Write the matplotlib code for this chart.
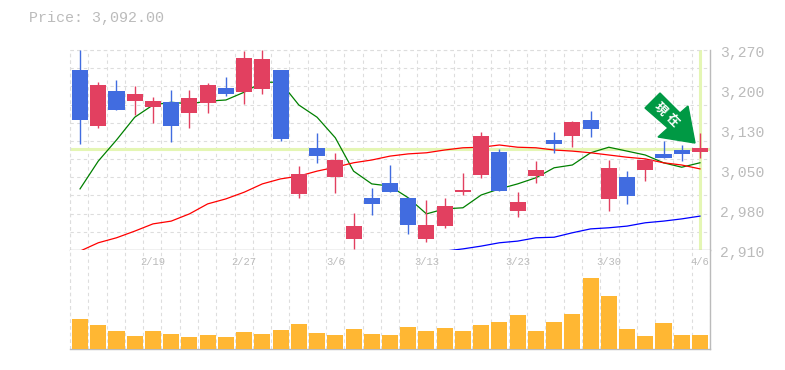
import matplotlib
matplotlib.use("Agg")
import numpy as np
from matplotlib import pyplot as plt
from matplotlib.patches import Polygon

nan = np.nan

opens = [3234, 3133, 3196, 3178, 3167, 3176, 3157, 3175, 3202, 3194, 3200, 3234,
         3011, 3094, 3041, 2930, 3004, 3031, 3004, 2930, 2953, 3014, 3045, 3086,
         2980, 3043, 3108, 3115, 3144, 3002, 3041, 3054, 3083, 3090, 3086]
closes = [3144, 3207, 3162, 3191, 3178, 3133, 3184, 3207, 3191, 3256, 3254, 3110,
          3047, 3079, 3072, 2953, 2993, 3014, 2955, 2955, 2989, 3018, 3115, 3016,
          2996, 3054, 3101, 3140, 3128, 3058, 3007, 3072, 3076, 3083, 3094]
highs = [3270, 3212, 3216, 3205, 3185, 3198, 3198, 3211, 3221, 3268, 3270, 3234,
         3061, 3121, 3085, 2977, 3022, 3063, 3005, 3000, 3004, 3049, 3122, 3092,
         3014, 3070, 3122, 3142, 3160, 3072, 3052, 3076, 3106, 3099, 3121]
lows = [3101, 3130, 3162, 3153, 3139, 3104, 3130, 3157, 3187, 3173, 3191, 3106,
        3004, 3067, 3013, 2912, 2973, 3014, 2939, 2924, 2950, 3009, 3040, 3016,
        2969, 3031, 3085, 3095, 3113, 2980, 2993, 3034, 3076, 3070, 3076]
ma_short = [3020, 3070, 3108, 3149, 3171, 3176, 3173, 3178, 3180, 3194, 3212, 3212,
            3171, 3149, 3112, 3052, 3029, 3025, 3004, 2975, 2984, 2986, 3009, 3020,
            3029, 3040, 3058, 3063, 3085, 3095, 3088, 3081, 3067, 3059, 3067]
ma_mid = [2908, 2923, 2932, 2944, 2957, 2962, 2975, 2993, 3002, 3014, 3029, 3038,
          3043, 3052, 3059, 3067, 3072, 3079, 3083, 3085, 3090, 3094, 3095, 3099,
          3095, 3094, 3090, 3088, 3085, 3081, 3077, 3074, 3067, 3063, 3056]
ma_long = [nan] * 20 + [2908, 2912, 2917, 2923, 2926, 2932, 2933, 2941, 2948, 2950,
                        2953, 2959, 2962, 2966, 2971]
volume = [30, 24, 18, 13, 18, 15, 12, 14, 12, 17, 15, 19, 25, 16, 14, 20, 15, 14,
          22, 18, 21, 18, 24, 27, 34, 18, 27, 35, 71, 53, 20, 13, 26, 14, 14]

price_tick_labels = ["3,270", "3,200", "3,130", "3,050", "2,980", "2,910"]
date_pos = [4, 9, 14, 19, 24, 29, 34]
date_labels = ["2/19", "2/27", "3/6", "3/13", "3/23", "3/30", "4/6"]
last_price = 3092
last_index = 34

WIDTH, HEIGHT = 785, 370
GREY = "#bbbbbb"
GRID = "#dddddd"
UP = "#e24060"
DOWN = "#416ce0"
MARK = "#e4f6b4"
FONT = "Liberation Mono"
DASH = (0, (3, 3))


def px_box(left, top, right, bottom):
    return [left / WIDTH, 1 - bottom / HEIGHT, (right - left) / WIDTH, (bottom - top) / HEIGHT]


def style_axes(ax):
    ax.set_xlim(-0.55, 34.55)
    lo, hi = ax.get_xlim()
    ax.set_xticks(np.linspace(lo, hi, 36))
    ax.tick_params(length=0, labelbottom=False, labelleft=False)
    ax.grid(True, axis="x", color=GRID, linestyle=DASH, linewidth=0.8)
    ax.set_axisbelow(True)
    for side in ["top", "left"]:
        ax.spines[side].set_visible(False)
    for side in ["bottom", "right"]:
        ax.spines[side].set_color(GREY)
        ax.spines[side].set_linewidth(1.0)


def draw_candles(ax):
    for i in range(len(opens)):
        color = UP if closes[i] >= opens[i] else DOWN
        ax.plot([i, i], [lows[i], highs[i]], color=color, linewidth=1.0, zorder=4, solid_capstyle="butt")
        ax.bar(i, abs(closes[i] - opens[i]), bottom=min(opens[i], closes[i]), width=0.88, color=color, zorder=5)


def draw_arrow(fig):
    points = [(660, 93), (645, 108), (668, 128), (658, 137), (695, 143), (688, 106), (680, 113)]
    shape = [(x / WIDTH, 1 - y / HEIGHT) for x, y in points]
    fig.add_artist(Polygon(shape, closed=True, color="#009944", transform=fig.transFigure, zorder=10))
    for (x, y), char in zip([(660, 109), (672, 120)], "現在"):
        fig.text(x / WIDTH, 1 - y / HEIGHT, char, color="white", fontsize=9, rotation=-45, ha="center",
                 va="center", family=["Noto Sans CJK JP", "DejaVu Sans"], weight="bold", zorder=11)


fig = plt.figure(figsize=(WIDTH / 100, HEIGHT / 100), dpi=100)
ax = fig.add_axes(px_box(70, 50, 710, 250))
vol_ax = fig.add_axes(px_box(70, 250, 710, 349))

x = np.arange(len(opens))

style_axes(ax)
ax.set_ylim(2910, 3270)
ax.set_yticks(np.linspace(2910, 3270, 12))
ax.grid(True, axis="y", color=GRID, linestyle=DASH, linewidth=0.8)
ax.axhline(last_price, color=MARK, linewidth=2.2, zorder=2)
ax.axvline(last_index, color=MARK, linewidth=2.2, zorder=2)
ax.plot(x, ma_short, color="#008000", linewidth=0.9, zorder=3)
ax.plot(x, ma_mid, color="#ff0000", linewidth=0.9, zorder=3, clip_on=False)
ax.plot(x, ma_long, color="#0000ff", linewidth=0.9, zorder=3, clip_on=False)
draw_candles(ax)

ax.hlines(3270, -0.55, 34.55, color=GRID, linewidth=0.8, linestyle=DASH, clip_on=False)
ax.vlines(-0.55, 2910, 3270, color=GRID, linewidth=0.8, linestyle=DASH, clip_on=False)

# the labels sit at equal steps, they are rounded and not on the grid lines
for k, label in enumerate(price_tick_labels):
    ax.annotate(label, (1, 1 - k / 5), xycoords="axes fraction", xytext=(10, -3), textcoords="offset pixels",
                color=GREY, fontsize=10.6, family=FONT, ha="left", va="center", annotation_clip=False)

style_axes(vol_ax)
vol_ax.set_ylim(0, 99)
vol_ax.bar(x, volume, width=0.88, color="#ffb733", zorder=3)
vol_ax.vlines(-0.55, 0, 99, color=GRID, linewidth=0.8, linestyle=DASH, clip_on=False)
for pos, label in zip(date_pos, date_labels):
    vol_ax.text(pos, 87, label, color=GREY, fontsize=7.6, family=FONT, ha="center", va="center", zorder=6)

fig.text(29 / WIDTH, 1 - 18 / HEIGHT, "Price: 3,092.00", color=GREY, fontsize=10.8, family=FONT, ha="left", va="center")
draw_arrow(fig)

fig.savefig("out.png", dpi=100)
